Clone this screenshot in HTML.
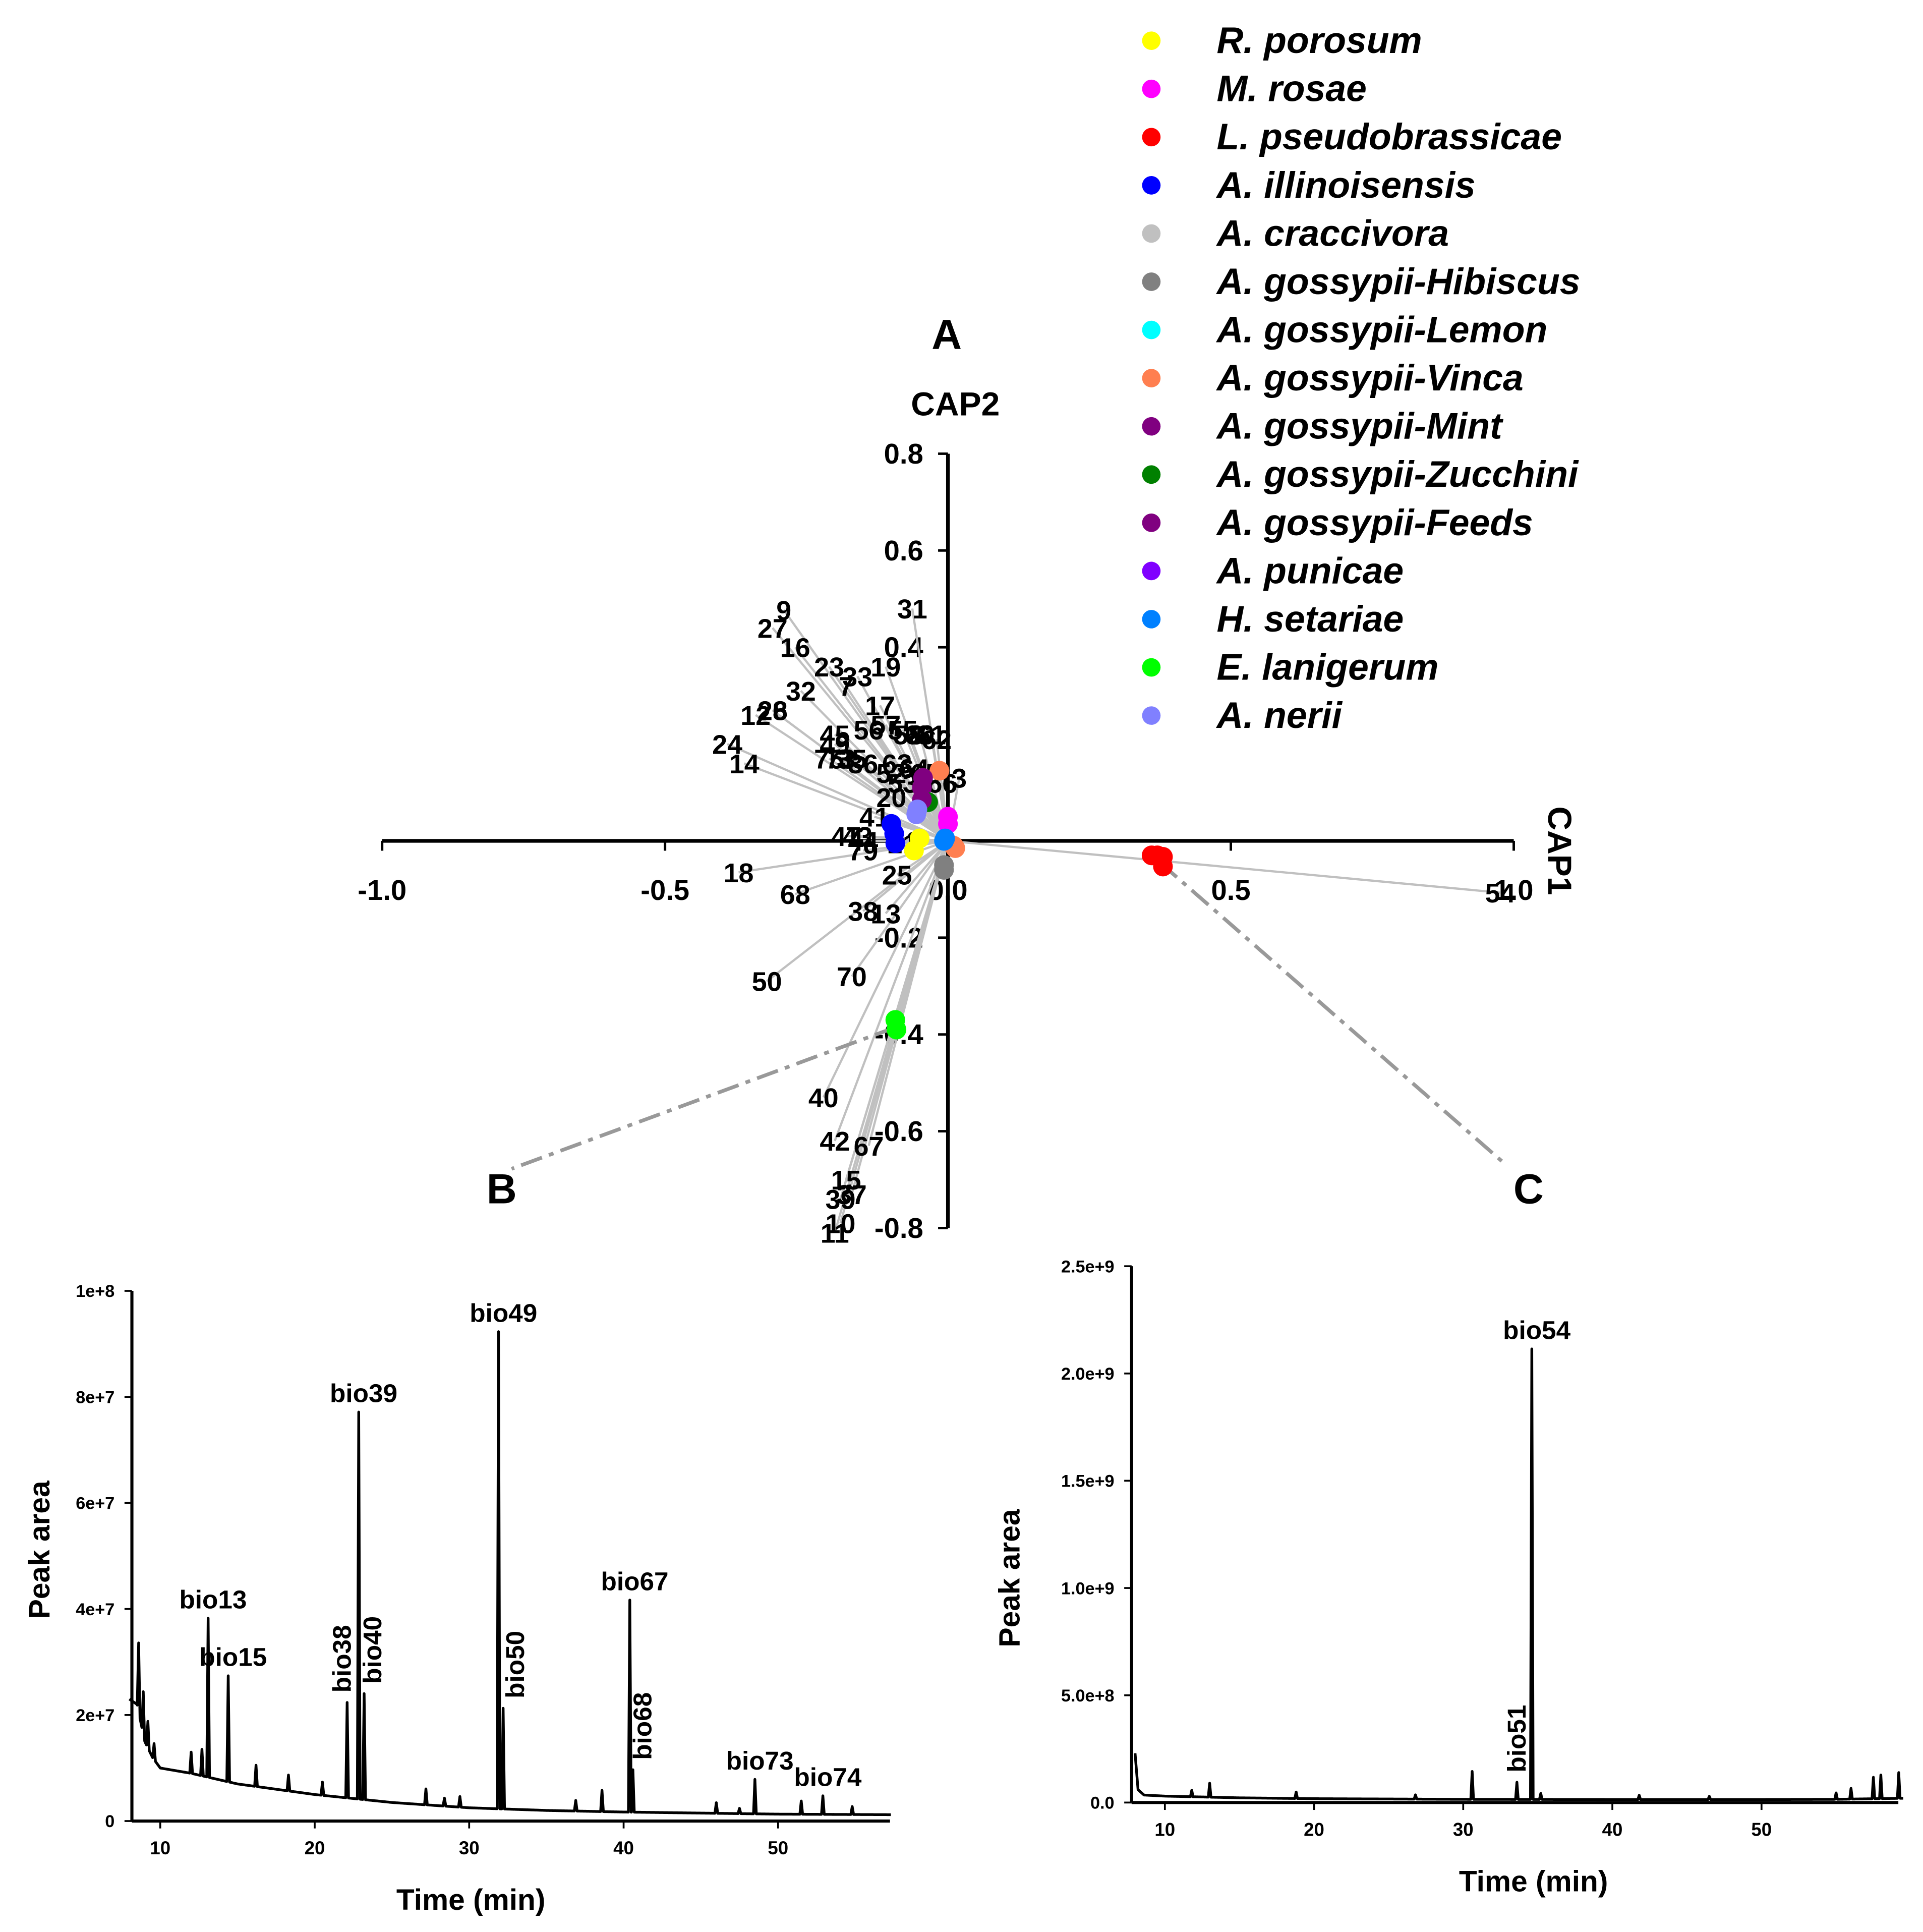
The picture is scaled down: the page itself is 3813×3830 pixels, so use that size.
<!DOCTYPE html>
<html><head><meta charset="utf-8"><style>
html,body{margin:0;padding:0;background:#fff}
svg{display:block}
text{font-family:"Liberation Sans",Arial,sans-serif;font-weight:bold}
</style></head><body>
<svg id="fig" width="3813" height="3830" viewBox="0 0 1560 1567" preserveAspectRatio="none" xmlns="http://www.w3.org/2000/svg">
<rect width="1560" height="1567" fill="#fff"/>
<g id="biplot"></g>
<g id="legend"></g>
<g id="chromB"></g>
<g id="chromC"></g>
</svg>
<script>
// ---------- Biplot data ----------
const loadLabels = ["9","27","16","23","33","7","19","31","32","12","26","28","24","14","45","49","17","56","57","55","58","60","61","62","63","64","65","66","75","73","35","36","52","53","20","41","47","43","44","79","25","18","68","50","38","13","70","40","42","67","15","39","37","10","11","54","21","2","3"];
const loadX = [-0.29,-0.31,-0.27,-0.21,-0.16,-0.18,-0.11,-0.063,-0.26,-0.34,-0.31,-0.31,-0.39,-0.36,-0.20,-0.20,-0.12,-0.14,-0.11,-0.08,-0.07,-0.05,-0.03,-0.02,-0.09,-0.06,-0.04,-0.01,-0.21,-0.19,-0.17,-0.15,-0.10,-0.08,-0.10,-0.13,-0.18,-0.16,-0.15,-0.15,-0.09,-0.37,-0.27,-0.32,-0.15,-0.11,-0.17,-0.22,-0.20,-0.14,-0.18,-0.19,-0.17,-0.19,-0.20,0.976,-0.08,-0.06,0.02];
const loadY = [0.477,0.44,0.40,0.36,0.34,0.32,0.36,0.48,0.31,0.26,0.27,0.27,0.20,0.16,0.22,0.20,0.28,0.23,0.24,0.23,0.22,0.22,0.22,0.21,0.16,0.15,0.14,0.12,0.17,0.17,0.17,0.16,0.14,0.12,0.09,0.05,0.01,0.01,0.0,-0.02,-0.07,-0.065,-0.11,-0.29,-0.145,-0.15,-0.28,-0.53,-0.62,-0.63,-0.70,-0.74,-0.73,-0.79,-0.81,-0.107,-0.005,0.0,0.13];
const legendNames = ["R. porosum","M. rosae","L. pseudobrassicae","A. illinoisensis","A. craccivora","A. gossypii-Hibiscus","A. gossypii-Lemon","A. gossypii-Vinca","A. gossypii-Mint","A. gossypii-Zucchini","A. gossypii-Feeds","A. punicae","H. setariae","E. lanigerum","A. nerii"];
const legendColors = ["#ffff00","#ff00ff","#ff0000","#0000ff","#c0c0c0","#808080","#00ffff","#ff7f50","#800080","#008000","#800080","#8000ff","#0080ff","#00ff00","#8080ff"];
const scoreGroup = [0,0,1,1,2,2,2,2,3,3,3,7,7,7,8,8,9,10,12,12,13,13,14,14,5,5];
const scoreX = [-0.06,-0.05,0.0,0.0,0.36,0.38,0.38,0.37,-0.1,-0.095,-0.093,-0.015,0.01,0.013,-0.044,-0.046,-0.035,-0.046,-0.007,-0.005,-0.093,-0.091,-0.056,-0.054,-0.007,-0.007];
const scoreY = [-0.02,0.005,0.05,0.035,-0.03,-0.033,-0.053,-0.03,0.035,0.015,-0.005,0.145,-0.01,-0.015,0.13,0.11,0.08,0.085,0.0,0.005,-0.37,-0.39,0.055,0.065,-0.05,-0.06];
const xTicks = [-1.0,-0.5,0.0,0.5,1.0];
const xTickLabels = ["-1.0","-0.5","0.0","0.5","1.0"];
const yTicks = [0.8,0.6,0.4,-0.2,-0.4,-0.6,-0.8];
const yTickLabels = ["0.8","0.6","0.4","-0.2","-0.4","-0.6","-0.8"];

// ---------- Chromatogram B data ----------
const bBaseT = [8,8.5,9,9.5,10,12,15,20,25,30,35,40,50,57.3];
const bBaseV = [2.3e7,2.2e7,1.5e7,1.2e7,1.0e7,9e6,7e6,5e6,3.5e6,2.5e6,2e6,1.7e6,1.3e6,1.2e6];
const bPeakT = [8.6,8.9,9.2,9.6,12.0,12.7,13.1,14.4,16.2,18.3,20.5,22.1,22.85,23.2,27.2,28.4,29.4,31.9,32.2,36.9,38.6,40.4,40.6,46,47.5,48.5,51.5,52.9,54.8];
const bPeakV = [1.3e7,8e6,5e6,3e6,4e6,5e6,3.0e7,2.0e7,4e6,3e6,2.5e6,1.8e7,7.3e7,2.0e7,3e6,1.5e6,2e6,9.0e7,1.9e7,2e6,4e6,4.0e7,8e6,2e6,1e6,6.5e6,2.5e6,3.5e6,1.5e6];
const bYTicks = [0,2e7,4e7,6e7,8e7,1e8];
const bYLabels = ["0","2e+7","4e+7","6e+7","8e+7","1e+8"];
const bXTicks = [10,20,30,40,50];
const bPeakNames = ["bio13","bio15","bio39","bio49","bio67","bio73","bio74"];
const bPeakNameT = [13.1,14.4,22.85,31.9,40.4,48.5,52.9];
const bRotNames = ["bio38","bio40","bio50","bio68"];
const bRotT = [22.1,23.2,32.2,40.6];

// ---------- Chromatogram C data ----------
const cBaseT = [8,8.2,8.6,10,15,20,30,40,50,55,59.5];
const cBaseV = [2.3e8,6e7,3.5e7,3e7,2.2e7,1.8e7,1.5e7,1.4e7,1.4e7,1.5e7,2e7];
const cPeakT = [11.8,13.0,18.8,26.8,30.6,33.6,34.6,35.2,41.8,46.5,55,56,57.5,58.0,59.2];
const cPeakV = [3e7,6.5e7,3e7,2e7,1.3e8,8e7,2.1e9,2.8e7,2e7,1.5e7,3e7,5e7,1.0e8,1.1e8,1.2e8];
const cYTicks = [0,5e8,1e9,1.5e9,2e9,2.5e9];
const cYLabels = ["0.0","5.0e+8","1.0e+9","1.5e+9","2.0e+9","2.5e+9"];
const cXTicks = [10,20,30,40,50];
const cPeakNames = ["bio54"];
const cPeakNameT = [34.6];
const cRotNames = ["bio51"];
const cRotT = [33.6];

const NS = "http://www.w3.org/2000/svg";
function mk(parent, tag, attrs, txt){
  const e = document.createElementNS(NS, tag);
  for (const k in attrs) e.setAttribute(k, attrs[k]);
  if (txt !== undefined) e.textContent = txt;
  parent.appendChild(e);
  return e;
}

// ---------- Biplot ----------
const bp = document.getElementById('biplot');
const X0 = 769, Y0 = 682, SX = 459, SY = 392.5;
const px = v => X0 + v * SX, py = v => Y0 - v * SY;
let e;
e = mk(bp,'line',{x1:px(-1),y1:Y0,x2:px(1),y2:Y0,stroke:'#000','stroke-width':3});
 
e = mk(bp,'line',{x1:X0,y1:py(0.8),x2:X0,y2:py(-0.8),stroke:'#000','stroke-width':3});
 
xTicks.forEach((t,i)=>{
  e = mk(bp,'line',{x1:px(t),y1:Y0,x2:px(t),y2:Y0+8,stroke:'#000','stroke-width':2});
   
  e = mk(bp,'text',{x:px(t),y:Y0+48,'text-anchor':'middle','font-size':23},xTickLabels[i]);
   
});
yTicks.forEach((t,i)=>{
  e = mk(bp,'line',{x1:X0-8,y1:py(t),x2:X0,y2:py(t),stroke:'#000','stroke-width':2});
   
  e = mk(bp,'text',{x:X0-20,y:py(t)+8,'text-anchor':'end','font-size':23},yTickLabels[i]);
   
});
loadLabels.forEach((l,i)=>{
  e = mk(bp,'line',{x1:X0,y1:Y0,x2:px(loadX[i]),y2:py(loadY[i]),stroke:'#c0c0c0','stroke-width':1.8});
   
});
loadLabels.forEach((l,i)=>{
  e = mk(bp,'text',{x:px(loadX[i]),y:py(loadY[i])+8,'text-anchor':'middle','font-size':22},l);
   
});
e = mk(bp,'line',{x1:px(-0.092),y1:py(-0.385),x2:415,y2:948,stroke:'#999','stroke-width':3,'stroke-dasharray':'18,6,4,6'});
 
e = mk(bp,'line',{x1:px(0.375),y1:py(-0.045),x2:1222,y2:945,stroke:'#999','stroke-width':3,'stroke-dasharray':'18,6,4,6'});
 
scoreX.forEach((v,i)=>{
  e = mk(bp,'circle',{cx:px(v),cy:py(scoreY[i]),r:8,fill:legendColors[scoreGroup[i]]});
   
});
e = mk(bp,'text',{x:768,y:283,'text-anchor':'middle','font-size':34},'A');
 
e = mk(bp,'text',{x:407,y:976,'text-anchor':'middle','font-size':34},'B');
 
e = mk(bp,'text',{x:1240,y:976,'text-anchor':'middle','font-size':34},'C');
 
e = mk(bp,'text',{x:775,y:337,'text-anchor':'middle','font-size':27},'CAP2');
 
e = mk(bp,'text',{x:1256,y:690,'text-anchor':'middle','font-size':27,transform:'rotate(90 1256 690)'},'CAP1');
 

// ---------- Legend ----------
const lg = document.getElementById('legend');
legendNames.forEach((n,i)=>{
  const y = 33 + i*39.1;
  e = mk(lg,'circle',{cx:934,cy:y,r:7.5,fill:legendColors[i]});
   
  e = mk(lg,'text',{x:987,y:y+10,'font-size':30,'font-style':'italic'},n);
   
});

// ---------- Chromatogram helper ----------
function interp(ts, vs, t){
  if (t <= ts[0]) return vs[0];
  for (let i=1;i<ts.length;i++) if (t <= ts[i]) {
    const f=(t-ts[i-1])/(ts[i]-ts[i-1]); return vs[i-1]+f*(vs[i]-vs[i-1]);
  }
  return vs[vs.length-1];
}
function chrom(g, o){
  const fx = t => o.x10 + (t-10)*o.pxPerMin;
  const fy = v => o.y0 - v*o.pxPerUnit;
  let pts = [];
  const hw = 0.09;
  let ts = [];
  for (let t=o.t0; t<=o.t1+1e-9; t+=0.05) ts.push(+t.toFixed(3));
  o.peakT.forEach(p=>{ ts.push(p-hw, p, p+hw); });
  ts = ts.filter(t=>t>=o.t0 && t<=o.t1).sort((a,b)=>a-b);
  ts.forEach(t=>{
    let v = interp(o.baseT,o.baseV,t);
    o.peakT.forEach((p,i)=>{ const d=Math.abs(t-p); if (d<hw) v += o.peakV[i]*(1-d/hw); });
    pts.push(fx(t).toFixed(2)+','+fy(v).toFixed(2));
  });
  e = mk(g,'polyline',{points:pts.join(' '),fill:'none',stroke:'#000','stroke-width':2.2,'stroke-linejoin':'round'});
   
  e = mk(g,'line',{x1:o.axL,y1:o.y0,x2:o.axR,y2:o.y0,stroke:'#000','stroke-width':2.5});
   
  e = mk(g,'line',{x1:o.axL,y1:o.y0,x2:o.axL,y2:fy(o.yTicks[o.yTicks.length-1]),stroke:'#000','stroke-width':2.5});
   
  o.yTicks.forEach((t,i)=>{
    e = mk(g,'line',{x1:o.axL-6,y1:fy(t),x2:o.axL,y2:fy(t),stroke:'#000','stroke-width':1.5});
     
    e = mk(g,'text',{x:o.axL-14,y:fy(t)+5,'text-anchor':'end','font-size':14,'font-weight':'normal'},o.yLabels[i]);
     
  });
  o.xTicks.forEach(t=>{
    e = mk(g,'line',{x1:fx(t),y1:o.y0,x2:fx(t),y2:o.y0+6,stroke:'#000','stroke-width':1.5});
     
    e = mk(g,'text',{x:fx(t),y:o.y0+27,'text-anchor':'middle','font-size':15,'font-weight':'normal'},String(t));
     
  });
  o.names.forEach((n,i)=>{
    const t=o.nameT[i]; const pi=o.peakT.indexOf(t);
    const top = fy(interp(o.baseT,o.baseV,t)+o.peakV[pi]);
    e = mk(g,'text',{x:fx(t)+4,y:top-8,'text-anchor':'middle','font-size':21},n);
     
  });
  o.rotNames.forEach((n,i)=>{
    const t=o.rotT[i]; const pi=o.peakT.indexOf(t);
    const top = fy(interp(o.baseT,o.baseV,t)+o.peakV[pi]);
    const x = fx(t) + o.rotOff[i], y = top-8;
    e = mk(g,'text',{x:x,y:y,'text-anchor':'start','font-size':21,transform:`rotate(-90 ${x} ${y})`},n);
     
  });
  e = mk(g,'text',{x:o.titleX,y:o.y0+72,'text-anchor':'middle','font-size':24},'Time (min)');
   
  e = mk(g,'text',{x:o.yTitleX,y:o.yTitleY,'text-anchor':'middle','font-size':24,transform:`rotate(-90 ${o.yTitleX} ${o.yTitleY})`},'Peak area');
   
}
chrom(document.getElementById('chromB'),{
  x10:130,pxPerMin:12.53,y0:1477,pxPerUnit:430/1e8,t0:8,t1:57.3,axL:107,axR:722,
  baseT:bBaseT,baseV:bBaseV,peakT:bPeakT,peakV:bPeakV,yTicks:bYTicks,yLabels:bYLabels,xTicks:bXTicks,
  names:bPeakNames,nameT:bPeakNameT,rotNames:bRotNames,rotT:bRotT,rotOff:[3,14,17,15],
  titleX:382,yTitleX:40,yTitleY:1257
});
chrom(document.getElementById('chromC'),{
  x10:945,pxPerMin:12.1,y0:1462,pxPerUnit:435/2.5e9,t0:8,t1:59.5,axL:918,axR:1540,
  baseT:cBaseT,baseV:cBaseV,peakT:cPeakT,peakV:cPeakV,yTicks:cYTicks,yLabels:cYLabels,xTicks:cXTicks,
  names:cPeakNames,nameT:cPeakNameT,rotNames:cRotNames,rotT:cRotT,rotOff:[7],
  titleX:1244,yTitleX:827,yTitleY:1280
});
</script>
</body></html>
